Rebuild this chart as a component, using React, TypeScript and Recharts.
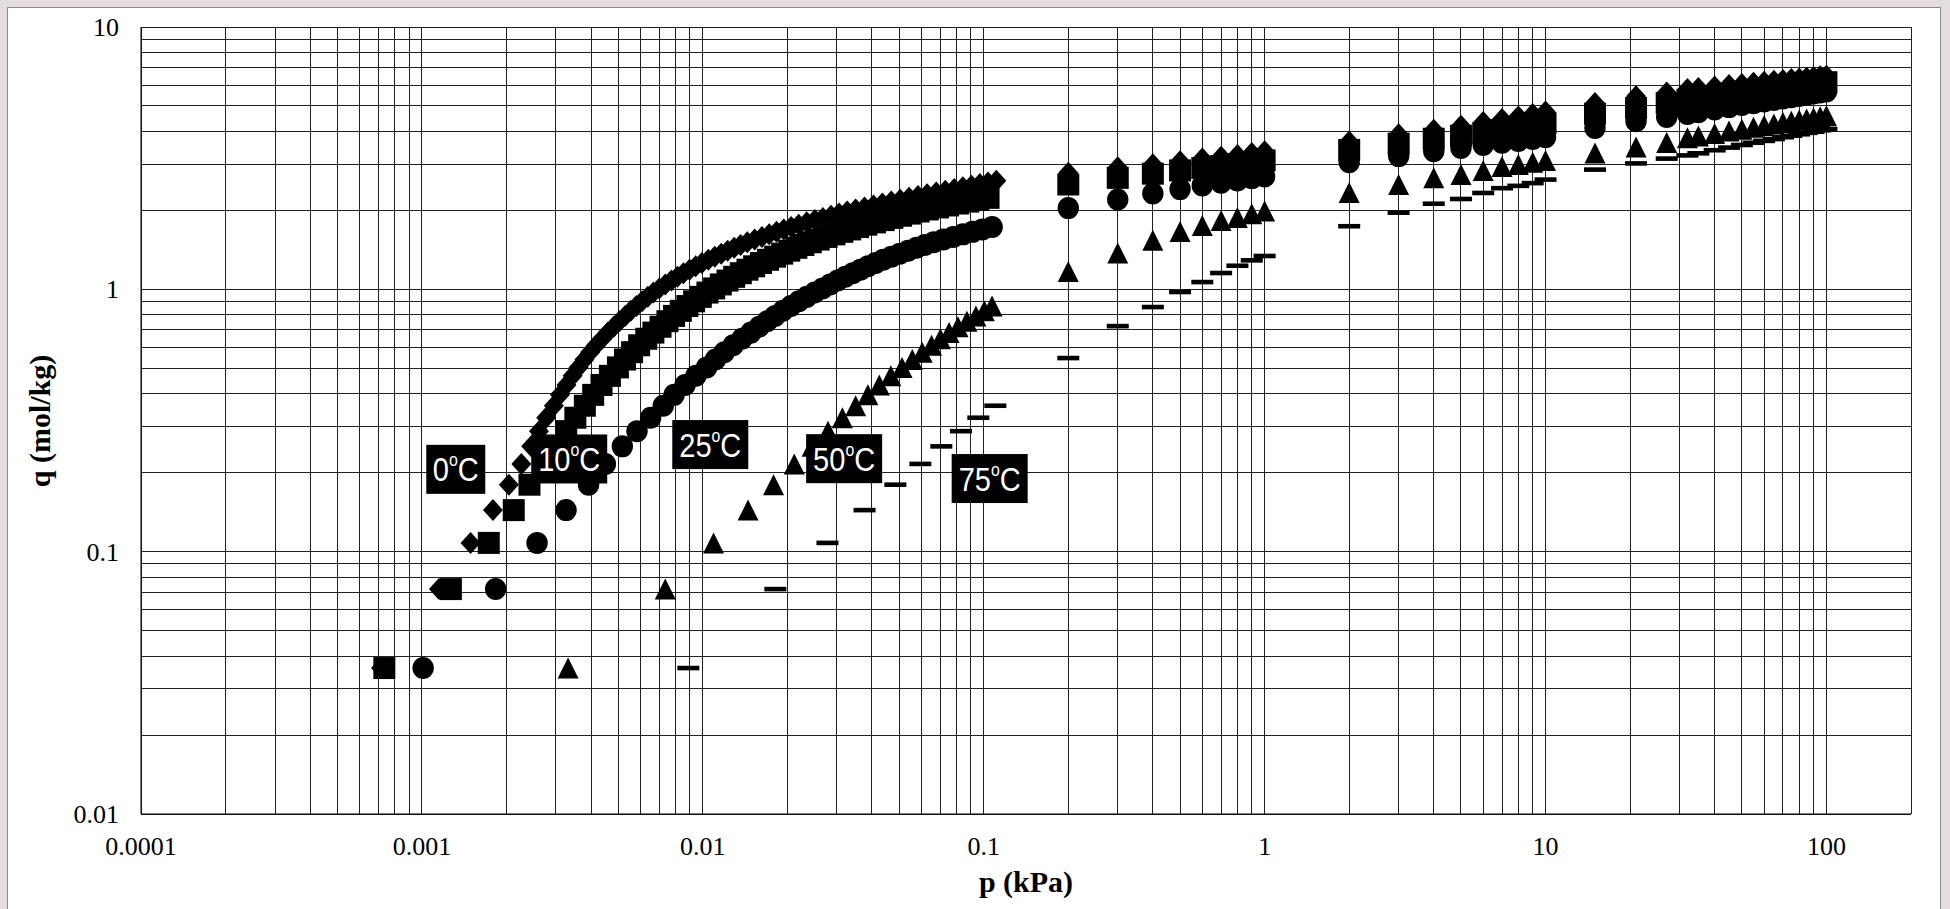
import React from 'react';
import { ScatterChart, Scatter, XAxis, YAxis, CartesianGrid, Label } from 'recharts';

// ---------- data ----------
// adsorbed amount steps used in the low-pressure part of every isotherm (mol/kg)
const LOW_Q = [
  0.036, 0.072, 0.108, 0.144, 0.18, 0.216, 0.252, 0.288, 0.324, 0.36,
  0.396, 0.432, 0.468, 0.504, 0.54, 0.576, 0.612, 0.648, 0.684, 0.72,
  0.756, 0.792, 0.828, 0.864, 0.9, 0.936, 0.972, 1.008, 1.044, 1.08,
  1.116, 1.152, 1.188, 1.224, 1.26, 1.296, 1.332, 1.368, 1.404, 1.44,
  1.476, 1.512, 1.548, 1.584, 1.62, 1.656, 1.692, 1.728, 1.764, 1.8,
  1.836, 1.872, 1.908, 1.944, 1.98, 2.016, 2.052, 2.088, 2.124, 2.16,
  2.196, 2.232, 2.268, 2.304, 2.34, 2.376, 2.412, 2.448, 2.484, 2.52,
  2.556, 2.592,
];

// pressures of the high-pressure measurements (kPa)
const HIGH_P = [
  0.2, 0.3, 0.4, 0.5, 0.6, 0.7, 0.8, 0.9, 1,
  2, 3, 4, 5, 6, 7, 8, 9, 10,
  15, 21, 27,
  32, 35, 40, 45, 50, 55, 60, 65, 70, 75, 80, 85, 90, 95, 100,
];

// 0 °C
const P_LOW_0 = [
  0.000715, 0.00115, 0.00149, 0.00179, 0.00204, 0.00226, 0.00245, 0.00261, 0.00277, 0.00295,
  0.0031, 0.00327, 0.00344, 0.00361, 0.00379, 0.00397, 0.00417, 0.00438, 0.00459, 0.00482,
  0.00505, 0.00529, 0.00554, 0.0058, 0.00608, 0.00637, 0.00667, 0.007, 0.00735, 0.00773,
  0.00812, 0.00853, 0.00897, 0.00943, 0.00992, 0.01046, 0.01103, 0.01163, 0.01226, 0.01293,
  0.01363, 0.0144, 0.0153, 0.01624, 0.01723, 0.0183, 0.01942, 0.02062, 0.02194, 0.02344,
  0.02505, 0.02676, 0.0286, 0.03055, 0.03266, 0.035, 0.03765, 0.04051, 0.04357, 0.04687,
  0.05042, 0.05423, 0.05835, 0.06287, 0.06776, 0.073, 0.07855, 0.08429, 0.09046, 0.09689,
  0.1036, 0.1109,
];
const Q_HIGH_0 = [
  2.78, 2.92, 3.0, 3.08, 3.15, 3.2, 3.25, 3.31, 3.36,
  3.66, 3.9, 4.06, 4.2, 4.34, 4.46, 4.56, 4.66, 4.76,
  5.13, 5.44, 5.63,
  5.8, 5.85, 5.93, 6.01, 6.07, 6.13, 6.19, 6.24, 6.28, 6.33, 6.37, 6.41, 6.45, 6.49, 6.52,
];

// 10 °C
const P_LOW_10 = [
  0.000735, 0.001268, 0.00173, 0.002123, 0.002415, 0.002716, 0.00302, 0.003264, 0.003518, 0.003802,
  0.004071, 0.004359, 0.004669, 0.004987, 0.005284, 0.0056, 0.005934, 0.00629, 0.006669, 0.00707,
  0.007482, 0.007901, 0.008348, 0.008815, 0.009311, 0.009836, 0.010387, 0.010974, 0.011588, 0.012242,
  0.01293, 0.013655, 0.014423, 0.015232, 0.016106, 0.017068, 0.018087, 0.019168, 0.020311, 0.021528,
  0.022811, 0.024222, 0.025851, 0.027574, 0.029412, 0.031378, 0.033472, 0.035718, 0.038194, 0.04102,
  0.044055, 0.047295, 0.050802, 0.05455, 0.058591, 0.063241, 0.068707, 0.074645, 0.081116, 0.08813,
  0.095766, 0.10404,
];
const Q_HIGH_10 = [
  2.51, 2.66, 2.76, 2.84, 2.9, 2.95, 3.0, 3.05, 3.1,
  3.4, 3.59, 3.75, 3.85, 3.94, 4.05, 4.13, 4.22, 4.3,
  4.67, 4.91, 5.13,
  5.28, 5.35, 5.44, 5.53, 5.61, 5.68, 5.75, 5.81, 5.87, 5.92, 5.98, 6.03, 6.07, 6.12, 6.16,
];

// 25 °C
const P_LOW_25 = [
  0.00101, 0.00183, 0.00257, 0.00326, 0.00392, 0.0045, 0.00517, 0.00583, 0.00652, 0.00723,
  0.007904, 0.008644, 0.009452, 0.010316, 0.011092, 0.011925, 0.012823, 0.013788, 0.014825, 0.015875,
  0.016942, 0.018073, 0.019285, 0.020583, 0.021966, 0.023442, 0.025017, 0.026669, 0.028379, 0.0302,
  0.032137, 0.034198, 0.036392, 0.038726, 0.04121, 0.043853, 0.046924, 0.050243, 0.053797, 0.057614,
  0.061694, 0.066313, 0.071829, 0.077822, 0.084291, 0.091286, 0.098924, 0.10715,
];
const Q_HIGH_25 = [
  2.04, 2.2, 2.32, 2.41, 2.49, 2.55, 2.6, 2.65, 2.69,
  3.05, 3.22, 3.36, 3.46, 3.55, 3.62, 3.68, 3.74, 3.8,
  4.12, 4.37, 4.54,
  4.66, 4.73, 4.85, 4.95, 5.04, 5.12, 5.2, 5.27, 5.34, 5.4, 5.46, 5.52, 5.58, 5.63, 5.68,
];

// 50 °C
const P_LOW_50 = [
  0.003314, 0.00735, 0.01092, 0.01449, 0.01786, 0.02116, 0.0245, 0.0279, 0.0314, 0.035,
  0.0387, 0.0425, 0.0467, 0.0512, 0.0557, 0.0604, 0.0652, 0.0701, 0.0753, 0.081,
  0.0871, 0.0938, 0.1005, 0.107,
];
const Q_HIGH_50 = [
  1.17, 1.375, 1.54, 1.66, 1.75, 1.83, 1.88, 1.94, 1.99,
  2.34, 2.51, 2.66, 2.74, 2.84, 2.94, 2.99, 3.05, 3.1,
  3.31, 3.49, 3.63,
  3.78, 3.84, 3.93, 4.01, 4.08, 4.15, 4.21, 4.27, 4.32, 4.37, 4.42, 4.46, 4.51, 4.55, 4.59,
];

// 75 °C
const P_LOW_75 = [
  0.00888, 0.01812, 0.02778, 0.03765, 0.04848, 0.05949, 0.07064, 0.08297, 0.09568, 0.11,
];
const Q_HIGH_75 = [
  0.547, 0.724, 0.856, 0.977, 1.066, 1.154, 1.23, 1.29, 1.34,
  1.74, 1.96, 2.12, 2.21, 2.33, 2.43, 2.48, 2.54, 2.62,
  2.86, 3.02, 3.15,
  3.24, 3.3, 3.39, 3.47, 3.55, 3.62, 3.68, 3.74, 3.8, 3.85, 3.9, 3.95, 3.99, 4.04, 4.08,
];

// curve labels (anchored in data coordinates)
const LABEL_TEXT = ['0', '10', '25', '50', '75'];
const LABEL_P = [0.00132, 0.003345, 0.01063, 0.03185, 0.105];
const LABEL_Q = [0.206, 0.2256, 0.256, 0.2262, 0.19];

// axis ticks
const X_MAJOR = [0.0001, 0.001, 0.01, 0.1, 1, 10, 100];
const X_LABELS = ['0.0001', '0.001', '0.01', '0.1', '1', '10', '100'];
const X_MAX = 200;
const Y_MAJOR = [0.01, 0.1, 1, 10];
const Y_LABELS = ['0.01', '0.1', '1', '10'];
const MINOR_STEPS = [1, 2, 3, 4, 5, 6, 7, 8, 9];

// ---------- derived tables ----------
const build = (lowP: number[], highQ: number[]) => [
  ...lowP.map((p, i) => ({ p, q: LOW_Q[i] })),
  ...HIGH_P.map((p, i) => ({ p, q: highQ[i] })),
];
const S0 = build(P_LOW_0, Q_HIGH_0);
const S10 = build(P_LOW_10, Q_HIGH_10);
const S25 = build(P_LOW_25, Q_HIGH_25);
const S50 = build(P_LOW_50, Q_HIGH_50);
const S75 = build(P_LOW_75, Q_HIGH_75);
const LABELS = LABEL_TEXT.map((t, i) => ({ p: LABEL_P[i], q: LABEL_Q[i], t }));

const X_TICKS = [...X_MAJOR.flatMap((m) => MINOR_STEPS.map((k) => m * k)), X_MAX];
const Y_TICKS = [...Y_MAJOR.slice(0, -1).flatMap((m) => MINOR_STEPS.map((k) => m * k)), 10];

const isMajor = (v: number) => Math.abs(Math.log10(v) - Math.round(Math.log10(v))) < 1e-9;
const majorLabel = (v: number, majors: number[], labels: string[]) => {
  const idx = majors.findIndex((m) => Math.abs(Math.log10(m) - Math.log10(v)) < 1e-9);
  return idx >= 0 ? labels[idx] : '';
};

const SERIF = "'Liberation Serif', 'Times New Roman', serif";
const SANS = "'Liberation Sans', Arial, sans-serif";
const INK = '#000';

// ---------- marker shapes ----------
const Diamond = (props: any) => {
  const { cx, cy } = props;
  return <polygon points={`${cx},${cy - 11} ${cx + 10},${cy} ${cx},${cy + 11} ${cx - 10},${cy}`} fill={INK} />;
};
const Square = (props: any) => {
  const { cx, cy } = props;
  return <rect x={cx - 11} y={cy - 11} width={22} height={22} fill={INK} />;
};
const Circle = (props: any) => {
  const { cx, cy } = props;
  return <ellipse cx={cx} cy={cy} rx={10.7} ry={11} fill={INK} />;
};
const Triangle = (props: any) => {
  const { cx, cy } = props;
  return <polygon points={`${cx},${cy - 10.5} ${cx + 10.5},${cy + 10.5} ${cx - 10.5},${cy + 10.5}`} fill={INK} />;
};
const Dash = (props: any) => {
  const { cx, cy } = props;
  return <rect x={cx - 11} y={cy - 2.3} width={22} height={4.6} fill={INK} />;
};
const TempLabel = (props: any) => {
  const { cx, cy, payload } = props;
  const t: string = payload.t;
  const w = t.length === 1 ? 59 : 76;
  return (
    <g>
      <rect x={cx - w / 2} y={cy - 24.5} width={w} height={49} fill={INK} />
      <g transform={`translate(${cx} ${cy}) scale(0.88 1)`}>
        <text x={0} y={12} textAnchor="middle" fill="#fff" fontFamily={SANS} fontSize={33}>
          {t}
          <tspan fontSize={18} dy={-15}>o</tspan>
          <tspan dy={15}>C</tspan>
        </text>
      </g>
    </g>
  );
};

// ---------- ticks ----------
const XTick = (props: any) => {
  const { x, payload } = props;
  const label = isMajor(payload.value) ? majorLabel(payload.value, X_MAJOR, X_LABELS) : '';
  if (!label) return <g />;
  return (
    <text x={x} y={855} textAnchor="middle" fontFamily={SERIF} fontSize={26} fill={INK}>
      {label}
    </text>
  );
};
const YTick = (props: any) => {
  const { y, payload } = props;
  const label = isMajor(payload.value) ? majorLabel(payload.value, Y_MAJOR, Y_LABELS) : '';
  if (!label) return <g />;
  return (
    <text x={119} y={y + 9} textAnchor="end" fontFamily={SERIF} fontSize={26} fill={INK}>
      {label}
    </text>
  );
};

export default function App() {
  return (
    <div style={{ position: 'absolute', left: 0, top: 0, width: 1950, height: 909, background: '#e4dcdf', overflow: 'hidden' }}>
      <div
        style={{
          position: 'absolute', left: 7, top: 7, width: 1932, height: 920,
          background: '#fff', border: '1px solid #8a8a8a',
        }}
      />
      <div style={{ position: 'absolute', left: 0, top: 0 }}>
        <ScatterChart width={1950} height={909} margin={{ top: 27, right: 39, bottom: 0, left: 0 }}>
          <CartesianGrid stroke="#222" strokeWidth={1} shapeRendering="crispEdges" />
          <XAxis
            dataKey="p"
            type="number"
            scale="log"
            domain={[0.0001, X_MAX]}
            allowDataOverflow
            ticks={X_TICKS}
            interval={0}
            height={95}
            tickLine={false}
            axisLine={{ stroke: INK }}
            tick={<XTick />}
          >
            <Label
              content={() => (
                <text x={1026} y={892} textAnchor="middle" fontFamily={SERIF} fontWeight="bold" fontSize={30} fill={INK}>
                  p (kPa)
                </text>
              )}
            />
          </XAxis>
          <YAxis
            dataKey="q"
            type="number"
            scale="log"
            domain={[0.01, 10]}
            allowDataOverflow
            ticks={Y_TICKS}
            interval={0}
            width={141}
            tickLine={false}
            axisLine={{ stroke: INK }}
            tick={<YTick />}
          >
            <Label
              content={() => (
                <text
                  x={50}
                  y={421}
                  transform="rotate(-90 50 421)"
                  textAnchor="middle"
                  fontFamily={SERIF}
                  fontWeight="bold"
                  fontSize={30}
                  fill={INK}
                >
                  q (mol/kg)
                </text>
              )}
            />
          </YAxis>
          <Scatter data={S0} shape={<Diamond />} isAnimationActive={false} />
          <Scatter data={S10} shape={<Square />} isAnimationActive={false} />
          <Scatter data={S25} shape={<Circle />} isAnimationActive={false} />
          <Scatter data={S50} shape={<Triangle />} isAnimationActive={false} />
          <Scatter data={S75} shape={<Dash />} isAnimationActive={false} />
          <Scatter data={LABELS} shape={<TempLabel />} isAnimationActive={false} />
        </ScatterChart>
      </div>
    </div>
  );
}
